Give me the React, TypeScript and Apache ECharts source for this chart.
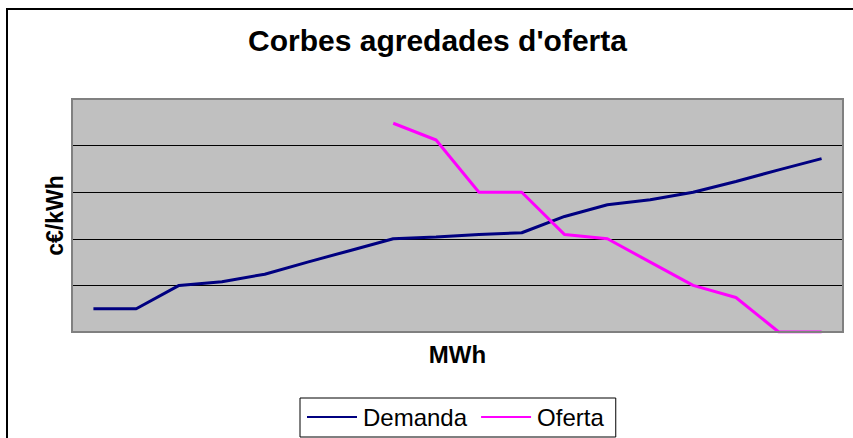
import React, { useEffect, useRef } from "react";
import * as echarts from "echarts";

const categories = ["1","2","3","4","5","6","7","8","9","10","11","12","13","14","15","16","17","18"];
const demanda = [0.5, 0.5, 1.0, 1.08, 1.24, 1.5, 1.75, 2.0, 2.04, 2.09, 2.13, 2.48, 2.73, 2.84, 3.0, 3.23, 3.48, 3.72];
const oferta: (number | null)[] = [null, null, null, null, null, null, null, 4.48, 4.12, 3.0, 3.0, 2.09, 2.0, 1.5, 1.0, 0.74, 0, 0];

const FONT = "'Liberation Sans', Arial, sans-serif";

export default function App() {
  const ref = useRef<HTMLDivElement>(null);
  useEffect(() => {
    if (!ref.current) return;
    const chart = echarts.init(ref.current, undefined, { renderer: "svg" });
    const gl = 72, gt = 99, gw = 771, gh = 233;
    chart.setOption({
      animation: false,
      backgroundColor: "#ffffff",
      title: {
        text: "Corbes agredades d'oferta",
        left: 248,
        top: 25,
        padding: 0,
        textStyle: { fontFamily: FONT, fontSize: 30, fontWeight: "bold", color: "#000" },
      },
      legend: {
        left: 300,
        top: 398,
        orient: "horizontal",
        padding: [7, 12, 8, 7],
        itemGap: 14,
        itemWidth: 50,
        itemHeight: 2,
        icon: "rect",
        borderColor: "#000",
        borderWidth: 1,
        backgroundColor: "#fff",
        textStyle: { fontFamily: FONT, fontSize: 24, color: "#000", padding: [0, 0, 0, 1] },
        data: ["Demanda", "Oferta"],
      },
      grid: {
        left: gl,
        top: gt,
        width: gw,
        height: gh,
        show: true,
        backgroundColor: "#C0C0C0",
        borderWidth: 0,
      },
      xAxis: {
        type: "category",
        data: categories,
        boundaryGap: true,
        axisLabel: { show: false },
        axisTick: { show: false },
        axisLine: { show: false },
        name: "MWh",
        nameLocation: "middle",
        nameGap: 10,
        nameTextStyle: { fontFamily: FONT, fontSize: 24, fontWeight: "bold", color: "#000", verticalAlign: "top" },
      },
      yAxis: {
        type: "value",
        min: 0,
        max: 5,
        interval: 1,
        axisLabel: { show: false },
        axisTick: { show: false },
        axisLine: { show: false },
        splitLine: { show: true, lineStyle: { color: "#000", width: 1 } },
        name: "c€/kWh",
        nameLocation: "middle",
        nameRotate: 90,
        nameGap: 6,
        nameTextStyle: { fontFamily: FONT, fontSize: 23, fontWeight: "bold", color: "#000" },
      },
      graphic: [
        {
          type: "rect",
          shape: { x: 7, y: 9, width: 900, height: 500 },
          style: { fill: "none", stroke: "#000", lineWidth: 2 },
          silent: true,
          z: -10,
        },
        {
          type: "rect",
          shape: { x: gl, y: gt, width: gw, height: gh },
          style: { fill: "none", stroke: "#808080", lineWidth: 2 },
          silent: true,
          z: 100,
        },
      ],
      series: [
        {
          name: "Demanda",
          type: "line",
          data: demanda,
          showSymbol: false,
          symbol: "none",
          lineStyle: { color: "#000080", width: 3 },
          itemStyle: { color: "#000080" },
          z: 3,
        },
        {
          name: "Oferta",
          type: "line",
          data: oferta,
          showSymbol: false,
          symbol: "none",
          connectNulls: false,
          lineStyle: { color: "#FF00FF", width: 3 },
          itemStyle: { color: "#FF00FF" },
          z: 4,
        },
      ],
    });
    return () => chart.dispose();
  }, []);
  return (
    <div
      ref={ref}
      style={{ position: "absolute", left: 0, top: 0, width: 853, height: 438 }}
    />
  );
}
